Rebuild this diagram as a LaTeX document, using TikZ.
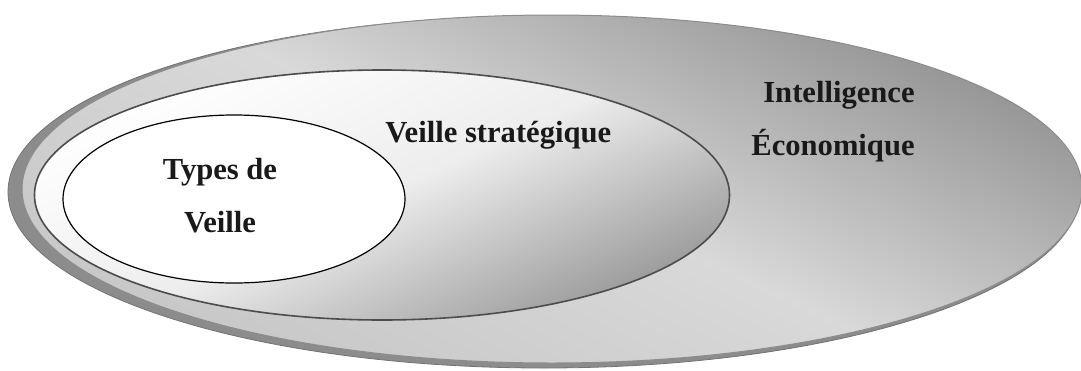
\documentclass[tikz,border=0pt]{standalone}
\usepackage{fontspec}
\setmainfont{Liberation Serif}
\begin{document}
\begin{tikzpicture}[x=0.5pt,y=0.5pt,
  lbl/.style={font=\fontsize{15.3}{26.5}\selectfont\bfseries, inner sep=0pt, text=black!90},
  shadowring/.style={fill=black!45, draw=black!55, line width=0.4pt},
  outerfill/.style={top color=black!42, bottom color=black!22, middle color=black!15, shading angle=-25, draw=black!45, line width=0.5pt},
  midfill/.style={top color=white, bottom color=black!40, middle color=black!7, shading angle=25, draw=black!70, line width=0.8pt},
  innerfill/.style={fill=white, draw=black, line width=0.6pt}]
\useasboundingbox (0,0) rectangle (1081,-370);
% outer: Intelligence economique
\path[shadowring] (544,-192) ellipse [x radius=268pt, y radius=88pt];
\shade[outerfill] (552,-189) ellipse [x radius=265pt, y radius=87pt];
% middle: Veille strategique
\shade[midfill] (382,-195) ellipse [x radius=173.75pt, y radius=62.5pt];
% inner: Types de veille
\path[innerfill] (234,-199) ellipse [x radius=85.5pt, y radius=42pt];
% labels
\node[lbl, align=center, anchor=base] (types) at (220,-232) {Types de\\Veille};
\node[lbl, anchor=base west] (vs) at (385,-142) {Veille stratégique};
\node[lbl, align=right, anchor=base east] (ie) at (915,-155) {Intelligence\\Économique};
\end{tikzpicture}
\end{document}
